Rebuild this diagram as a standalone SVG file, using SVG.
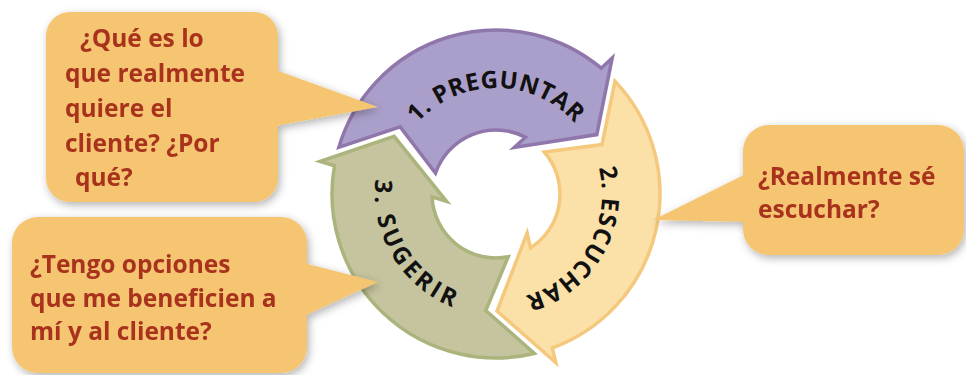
<svg xmlns="http://www.w3.org/2000/svg" xmlns:xlink="http://www.w3.org/1999/xlink" width="966" height="375" viewBox="0 0 966 375">
<style>
.arrow{stroke-width:3.5;stroke-linejoin:miter}
.purple{fill:#aa9fca;stroke:#8f76ab}
.yellow{fill:#fbe0a8;stroke:#f4c97e}
.green{fill:#c6c49e;stroke:#abb47c}
.alabel{font-family:"Open Sans","Noto Sans",sans-serif;font-weight:700;font-size:24px;fill:#111}
.bubble{fill:#f5c572}
.btext{font-family:"Open Sans","Noto Sans",sans-serif;font-weight:700;font-size:24.5px;fill:#a8331e}
</style>
<defs>
<path id="arrowShape" d="M338.8,147.4 A164,164 0 0 1 601.2,68.2 L612.2,57.9 L596.8,134.6 L514.3,147.5 L525.5,137.2 A64,64 0 0 0 435.5,173.2 L400.2,126.9 Z"/>
<path id="tp1" d="M390,194 A106,106 0 0 1 602,194"/>
<path id="tp2" d="M549,102.2 A106,106 0 0 1 443,285.8"/>
<path id="tp3" d="M434.5,87.5 A123,123 0 0 0 557.5,300.5"/>
<filter id="shadow" x="-20%" y="-20%" width="140%" height="140%">
<feDropShadow dx="2" dy="3" stdDeviation="4" flood-color="#000" flood-opacity="0.3"/>
</filter>
</defs>

<g id="node-preguntar">
<use href="#arrowShape" class="arrow purple"/>
<text class="alabel" letter-spacing="0.5"><textPath href="#tp1" startOffset="50%" text-anchor="middle">1. PREGUNTAR</textPath></text>
</g>
<g id="node-escuchar">
<use href="#arrowShape" class="arrow yellow" transform="rotate(120 496 194)"/>
<text class="alabel" letter-spacing="1"><textPath href="#tp2" startOffset="50%" text-anchor="middle">2. ESCUCHAR</textPath></text>
</g>
<g id="node-sugerir">
<use href="#arrowShape" class="arrow green" transform="rotate(240 496 194)"/>
<text class="alabel" letter-spacing="3.5"><textPath href="#tp3" startOffset="51%" text-anchor="middle">3. SUGERIR</textPath></text>
</g>

<g id="callout-1" filter="url(#shadow)">
<rect class="bubble" x="46" y="12" width="232" height="190" rx="24"/>
<polygon class="bubble" points="270,68 378,107 270,127"/>
<text class="btext"><tspan x="80" y="47">¿Qué es lo</tspan><tspan x="65" y="82">que realmente</tspan><tspan x="65" y="117">quiere el</tspan><tspan x="65" y="152">cliente? ¿Por</tspan><tspan x="75" y="186">qué?</tspan></text>
</g>
<g id="callout-2" filter="url(#shadow)">
<rect class="bubble" x="12" y="217" width="295" height="156" rx="26"/>
<polygon class="bubble" points="300,262 378,282 300,318"/>
<text class="btext"><tspan x="30" y="273">¿Tengo opciones</tspan><tspan x="30" y="307">que me beneficien a</tspan><tspan x="30" y="340">mí y al cliente?</tspan></text>
</g>
<g id="callout-3" filter="url(#shadow)">
<rect class="bubble" x="743" y="125" width="221" height="130" rx="26"/>
<polygon class="bubble" points="750,172 653,220 750,222"/>
<text class="btext"><tspan x="758" y="185">¿Realmente sé</tspan><tspan x="758" y="218">escuchar?</tspan></text>
</g>
</svg>
